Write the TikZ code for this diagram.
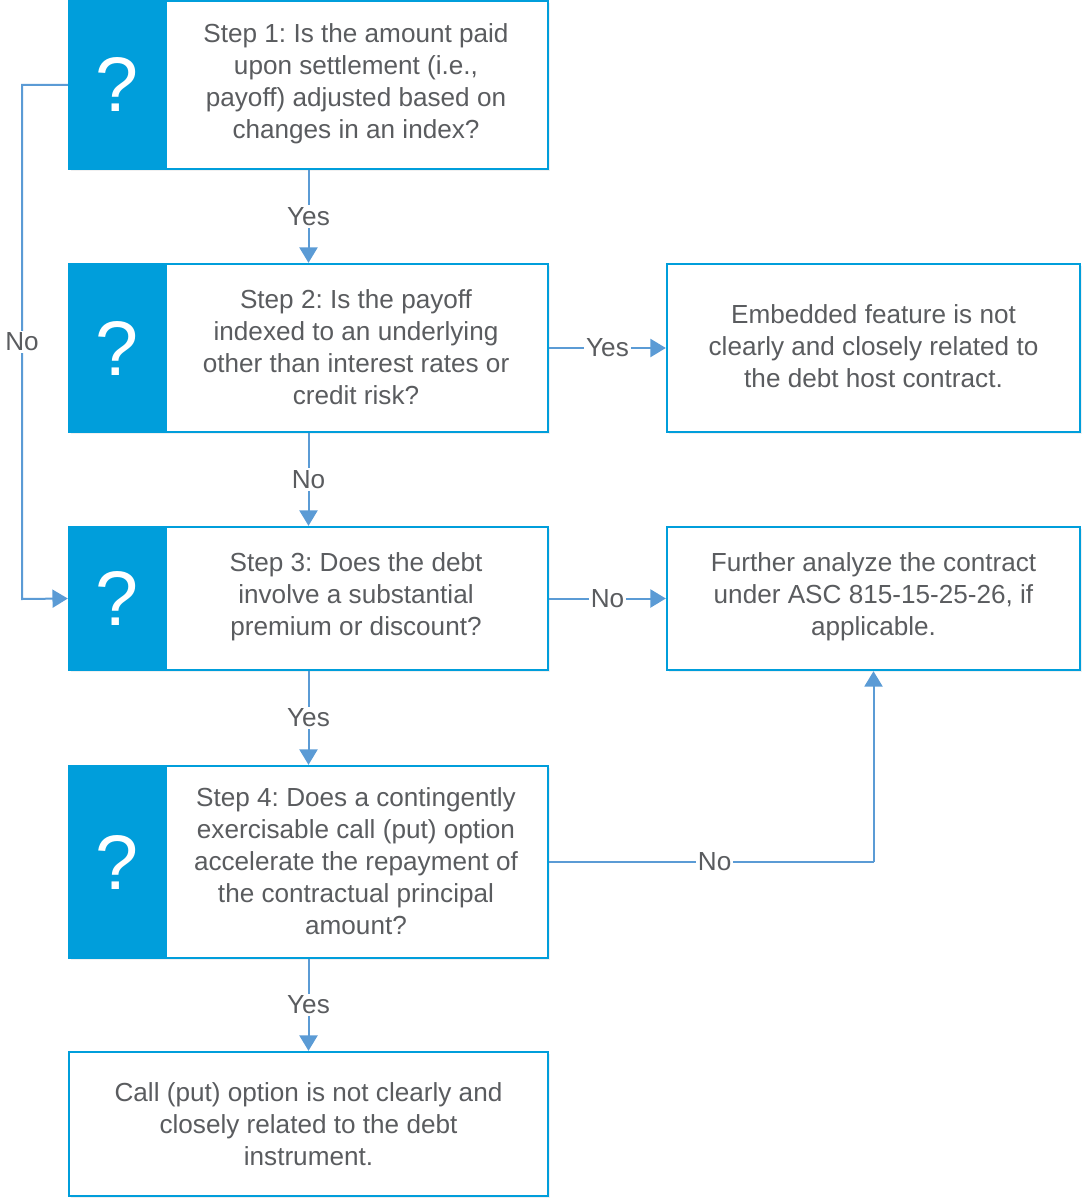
\documentclass[tikz,border=0pt]{standalone}
\usepackage{fontspec}
\setmainfont{Liberation Sans}
\usetikzlibrary{arrows.meta,shadows}
\definecolor{boxblue}{RGB}{0,158,219}
\definecolor{linkblue}{RGB}{91,155,213}
\definecolor{txtgray}{RGB}{90,92,95}
\frenchspacing
\begin{document}
\begin{tikzpicture}[x=0.75pt,y=-0.75pt,
  outerbox/.style={draw=boxblue,line width=1.8pt,fill=white,rectangle,inner sep=0pt,
    drop shadow={opacity=0.12,shadow xshift=1.5pt,shadow yshift=-1.5pt}},
  qbox/.style={fill=boxblue,draw=boxblue,line width=1.8pt,rectangle,inner sep=0pt,
    minimum width=72.75pt,text=white,font=\fontsize{58}{60}\selectfont},
  txt/.style={align=center,text=txtgray,inner sep=0pt,font=\fontsize{19.6}{24}\selectfont},
  lbl/.style={fill=white,text=txtgray,inner sep=1.5pt,font=\fontsize{19.6}{24}\selectfont},
  link/.style={draw=linkblue,line width=1.5pt,-{Triangle[width=13.5pt,length=11.5pt]}},
  plain/.style={draw=linkblue,line width=1.5pt}
]
\useasboundingbox (0,0) rectangle (1081,1198);

% step boxes
\node[outerbox,minimum width=359.25pt,minimum height=126pt] (b1) at (308.5,85) {};
\node[outerbox,minimum width=359.25pt,minimum height=126pt] (b2) at (308.5,348) {};
\node[outerbox,minimum width=359.25pt,minimum height=107.25pt] (b3) at (308.5,598.5) {};
\node[outerbox,minimum width=359.25pt,minimum height=144pt] (b4) at (308.5,862) {};
\node[outerbox,minimum width=359.25pt,minimum height=108pt] (b5) at (308.5,1124) {};
\node[outerbox,minimum width=309.75pt,minimum height=126pt] (r1) at (873.5,348) {};
\node[outerbox,minimum width=309.75pt,minimum height=107.25pt] (r2) at (873.5,598.5) {};

% blue question parts
\node[qbox,minimum height=126pt] (q1) at (117.5,85) {?};
\node[qbox,minimum height=126pt] (q2) at (117.5,348) {?};
\node[qbox,minimum height=107.25pt] (q3) at (117.5,598.5) {?};
\node[qbox,minimum height=144pt] (q4) at (117.5,862) {?};

% texts
\node[txt] (t1) at (356,84) {Step 1: Is the amount paid\\upon settlement (i.e.,\\payoff) adjusted based on\\changes in an index?};
\node[txt] (t2) at (356,347) {Step 2: Is the payoff\\indexed to an underlying\\other than interest rates or\\credit risk?};
\node[txt] (t3) at (356,597) {Step 3: Does the debt\\involve a substantial\\premium or discount?};
\node[txt] (t4) at (356,861) {Step 4: Does a contingently\\exercisable call (put) option\\accelerate the repayment of\\the contractual principal\\amount?};
\node[txt] (t5) at (308.5,1124) {Call (put) option is not clearly and\\closely related to the debt\\instrument.};
\node[txt] (t6) at (873.5,346) {Embedded feature is not\\clearly and closely related to\\the debt host contract.};
\node[txt] (t7) at (873.5,597) {Further analyze the contract\\under ASC 815-15-25-26, if\\applicable.};

% connectors
\coordinate (nl1) at (22,85);
\coordinate (nl2) at (22,599);
\coordinate (c4) at (873.5,862);

\draw[link] (b1.south) -- node[lbl] {Yes} (b2.north);
\draw[link] (b2.south) -- node[lbl] {No} (b3.north);
\draw[link] (b3.south) -- node[lbl] {Yes} (b4.north);
\draw[link] (b4.south) -- node[lbl] {Yes} (b5.north);
\draw[link] (b2.east) -- node[lbl] {Yes} (r1.west);
\draw[link] (b3.east) -- node[lbl] {No} (r2.west);
\draw[link] (b1.west) -- (nl1) -- node[lbl,pos=0.5] {No} (nl2) -- (b3.west);
\draw[plain] (b4.east) -- node[lbl,pos=0.51] {No} (c4);
\draw[link] (c4) -- (r2.south);
\end{tikzpicture}
\end{document}
